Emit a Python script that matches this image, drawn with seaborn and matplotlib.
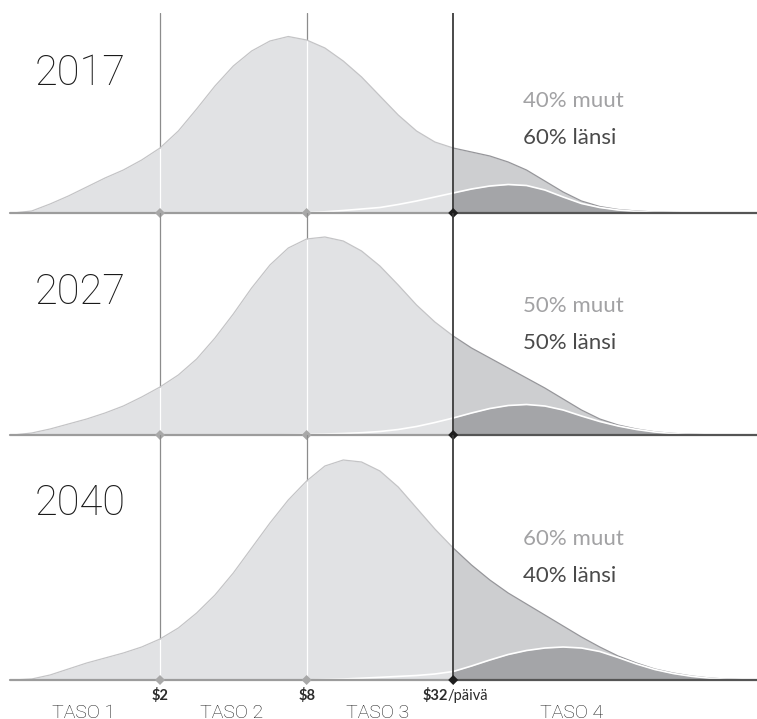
import numpy as np
import matplotlib
matplotlib.use("Agg")
import matplotlib.pyplot as plt
import seaborn as sns

# tulotaso log2($/päivä), neljännesaskelin
log2_usd = [-1.0, -0.75, -0.5, -0.25, 0.0, 0.25, 0.5, 0.75, 1.0, 1.25,
            1.5, 1.75, 2.0, 2.25, 2.5, 2.75, 3.0, 3.25, 3.5, 3.75,
            4.0, 4.25, 4.5, 4.75, 5.0, 5.25, 5.5, 5.75, 6.0, 6.25,
            6.5, 6.75, 7.0, 7.25, 7.5, 7.75, 8.0, 8.25, 8.5, 8.75, 9.0]

# koko maailma (korkeus)
total_2017 = [0, 2, 9, 17, 26, 35, 43, 53, 65, 82,
              104, 127, 147, 162, 172, 176.5, 173, 165, 152, 136,
              117, 98, 82, 71, 65, 61, 57, 51, 43, 32,
              21, 12, 6.5, 3.5, 2, 1, 0.5, 0.2, 0, 0, 0]
total_2027 = [0, 2, 6, 11, 16, 22, 29, 38, 48, 60,
              76, 97, 121, 147, 170, 187, 196, 198, 194, 184,
              169, 150, 130, 113, 99, 87, 77, 67, 57, 47,
              36, 25, 16, 10, 6, 3.2, 1.6, 0.7, 0.2, 0, 0]
total_2040 = [0, 1, 5, 11, 17, 22, 27, 33, 41, 52,
              67, 85, 107, 132, 157, 180, 199, 214, 220, 218,
              209, 193, 172, 151, 132, 115, 100, 87, 76, 65,
              54, 43, 33, 24, 17, 11, 7, 4, 2, 0.8, 0.2]

# länsi (korkeus)
lansi_2017 = [0, 0, 0, 0, 0, 0, 0, 0, 0, 0,
              0, 0, 0, 0, 0, 0, 0.5, 1.2, 2.5, 4,
              5.5, 8.5, 12, 16, 20, 24, 27, 28.5, 27.5, 23,
              16, 9.5, 5.5, 3, 1.6, 0.8, 0.4, 0.1, 0, 0, 0]
lansi_2027 = [0, 0, 0, 0, 0, 0, 0, 0, 0, 0,
              0, 0, 0, 0, 0, 0.3, 0.6, 1, 1.5, 2.3,
              3.5, 5.5, 8.5, 12.5, 17, 22, 26.5, 29.5, 30.5, 29,
              25, 19, 13.5, 9, 5.5, 3, 1.4, 0.6, 0.2, 0, 0]
lansi_2040 = [0, 0, 0, 0, 0, 0, 0, 0, 0, 0,
              0, 0, 0, 0, 0, 0, 0, 0.5, 1, 1.8,
              2.7, 3.6, 4.5, 6, 8.5, 14, 20, 25.5, 29.5, 32,
              33, 32, 28.5, 22.5, 16, 10.5, 6.5, 3.7, 1.8, 0.7, 0.1]

years = ['2017', '2027', '2040']
muut_labels = ['40% muut', '50% muut', '60% muut']
lansi_labels = ['60% länsi', '50% länsi', '40% länsi']
thresholds = [2, 8, 32]
levels = ['TASO 1', 'TASO 2', 'TASO 3', 'TASO 4']

# --- asettelu (pikseleinä) ---
W, H = 757, 719
PX_PER_DOUBLING = 73.3
X_AT_2 = 160
panel_bottoms = [213, 435, 680]
panel_tops = [13, 213, 435]
year_y = [128, 131, 165]
muut_y = [106, 123, 135]
lansi_y = [69, 86, 98]
level_px = [84, 232, 378, 572]


def px_to_log2(px):
    return 1 + (px - X_AT_2) / PX_PER_DOUBLING


LIGHT = '#e1e2e4'
MID = '#cdced0'
DARK = '#a4a5a8'
THIN_FONT = ['Roboto', 'DejaVu Sans']

sns.set_style('white')
plt.rcParams['font.family'] = ['Lato', 'DejaVu Sans']

fig = plt.figure(figsize=(W / 100, H / 100), dpi=100)
x = np.array(log2_usd)
cut = np.log2(thresholds[-1])
xlim = (px_to_log2(0), px_to_log2(W))

series = [(total_2017, lansi_2017), (total_2027, lansi_2027), (total_2040, lansi_2040)]
axes = []
for i, (tot, lan) in enumerate(series):
    tot = np.array(tot, dtype=float)
    lan = np.array(lan, dtype=float)
    h = panel_bottoms[i] - panel_tops[i]
    ax = fig.add_axes([0, 1 - panel_bottoms[i] / H, 1, h / H])
    ax.set_xlim(*xlim)
    ax.set_ylim(0, h)
    ax.set_axis_off()

    left = x <= cut
    right = x >= cut
    ax.fill_between(x, 0, tot, where=left, color=LIGHT, lw=0, zorder=1)
    ax.fill_between(x, 0, tot, where=right, color=MID, lw=0, zorder=1)
    ax.fill_between(x, 0, lan, where=right, color=DARK, lw=0, zorder=1.5)

    sns.lineplot(x=x[left], y=tot[left], ax=ax, color='#c4c4c6', lw=0.9, zorder=3)
    sns.lineplot(x=x[right], y=tot[right], ax=ax, color='#96969a', lw=0.9, zorder=3)
    sns.lineplot(x=x, y=lan, ax=ax, color='white', lw=1.2, zorder=3)

    # rajat $2 ja $8: harmaa viiva, valkoinen alueen sisällä
    for t in thresholds[:-1]:
        lt = np.log2(t)
        ax.axvline(lt, color='#8c8c8c', lw=0.9, zorder=0.5)
        top = tot[log2_usd.index(lt)]
        ax.vlines(lt, 0, top, color='white', lw=0.9, zorder=2.5)
    ax.axvline(cut, color='#3a3a3a', lw=1.3, zorder=4)

    # perusviiva
    x0 = px_to_log2(10)
    ax.plot([x0, cut], [0, 0], color='#9c9c9c', lw=1.6, zorder=4, clip_on=False)
    ax.plot([cut, xlim[1]], [0, 0], color='#555555', lw=1.6, zorder=4, clip_on=False)
    ax.scatter(np.log2(thresholds), [0, 0, 0], marker='D', s=26,
               c=['#a8a8a8', '#a8a8a8', '#1e1e1e'], lw=0, zorder=5, clip_on=False)

    ax.text(px_to_log2(35), year_y[i], years[i], fontsize=30, fontweight='light',
            family=THIN_FONT, color='#1a1a1a', va='baseline', ha='left')
    ax.text(px_to_log2(523), muut_y[i], muut_labels[i], fontsize=16,
            color='#a2a2a4', va='baseline', ha='left')
    ax.text(px_to_log2(523), lansi_y[i], lansi_labels[i], fontsize=16,
            color='#4a4a4a', va='baseline', ha='left')
    axes.append(ax)

ax = axes[-1]
for t in thresholds[:-1]:
    ax.text(np.log2(t), -20, f'${t}', fontsize=10.5, fontweight='bold',
            color='#2a2a2a', ha='center', va='baseline', clip_on=False)
split = px_to_log2(448)
ax.text(split, -20, f'${thresholds[-1]}', fontsize=10.5, fontweight='bold',
        color='#2a2a2a', ha='right', va='baseline', clip_on=False)
ax.text(split, -20, '/päivä', fontsize=10.5, color='#2a2a2a',
        ha='left', va='baseline', clip_on=False)

for lab, px in zip(levels, level_px):
    ax.text(px_to_log2(px), -24, lab, fontsize=14, fontweight='light',
            family=THIN_FONT, color='#222222', ha='center', va='top', clip_on=False)

fig.savefig('out.png', dpi=100)
